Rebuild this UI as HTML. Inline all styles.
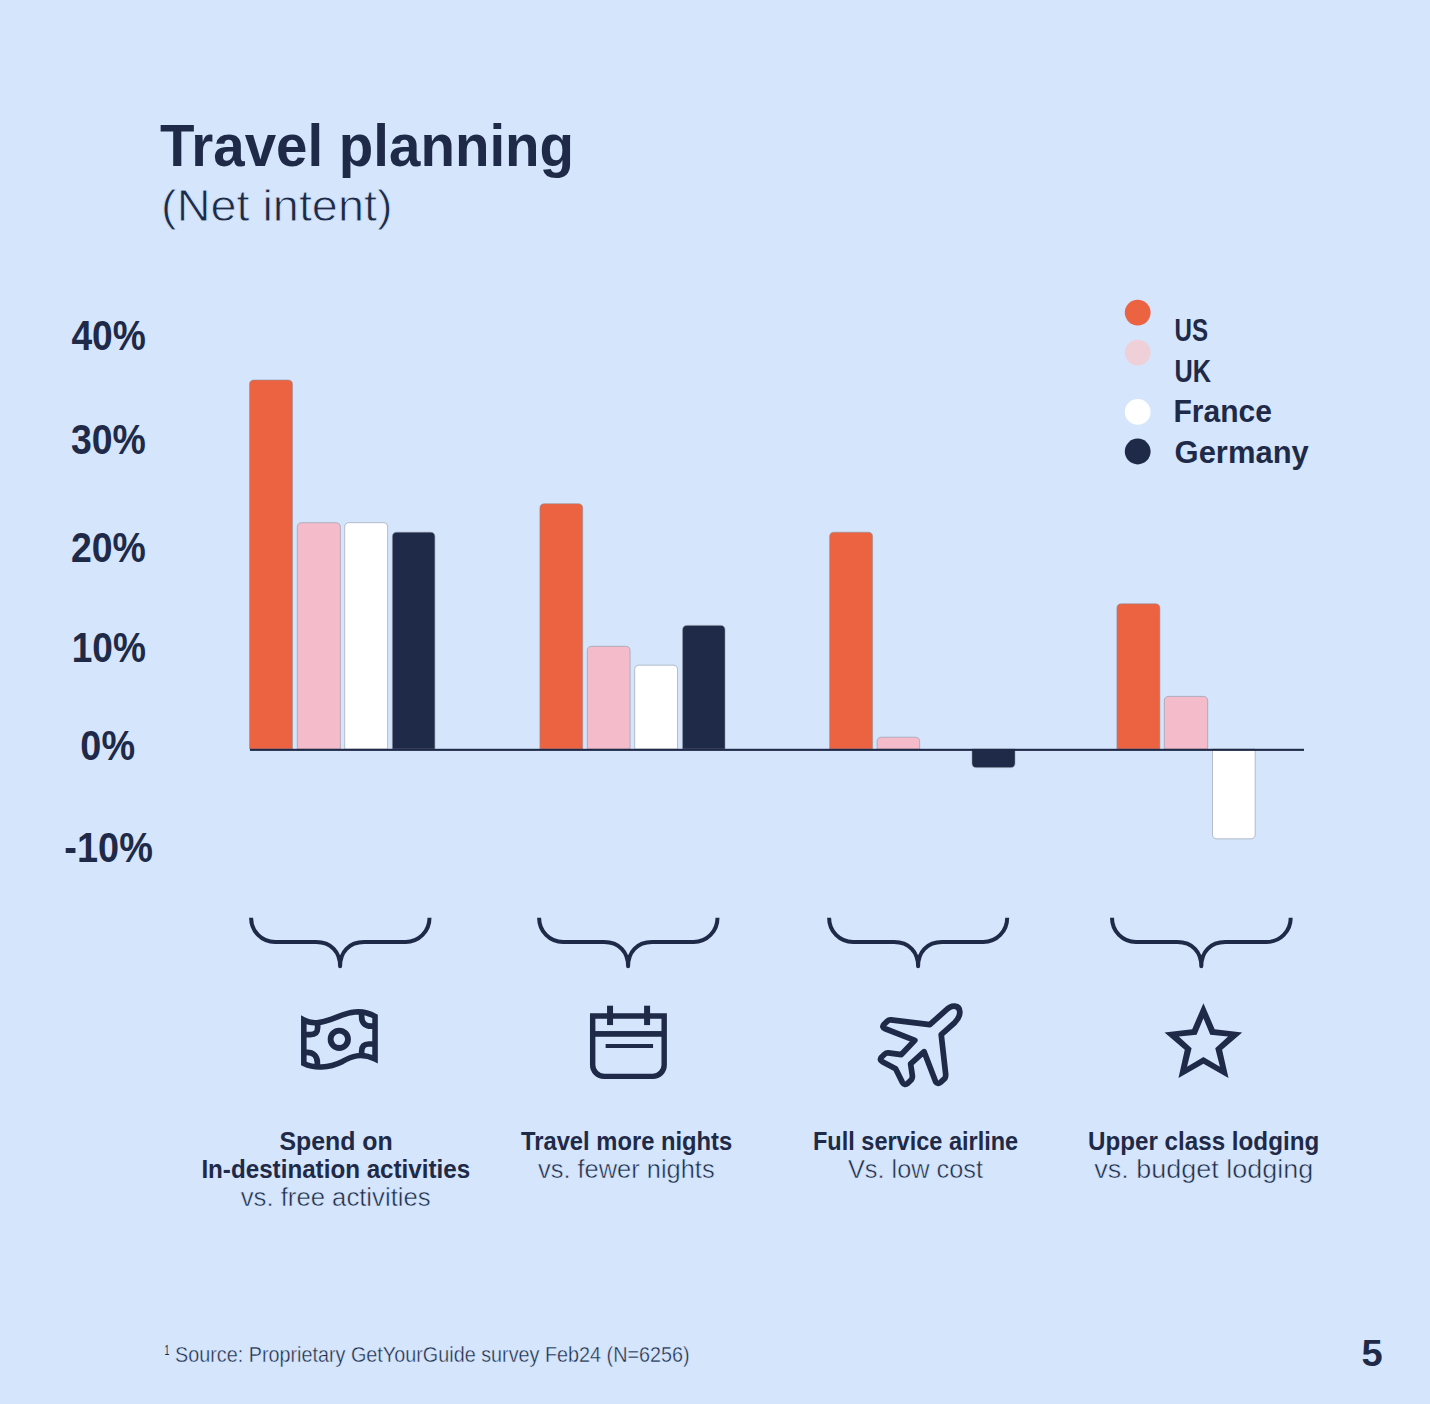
<!DOCTYPE html>
<html><head><meta charset="utf-8"><title>Travel planning</title>
<style>
html,body{margin:0;padding:0;background:#D4E5FC;}
body{width:1430px;height:1404px;overflow:hidden;}
svg text{font-family:"Liberation Sans",sans-serif;fill:#1E2A47;}
</style></head><body>
<svg width="1430" height="1404" viewBox="0 0 1430 1404" style="display:block">
<rect width="1430" height="1404" fill="#D4E5FC"/>
<path d="M249.5,749.0 L249.5,384.5 Q249.5,380 254.0,380 L288.0,380 Q292.5,380 292.5,384.5 L292.5,749.0 Z" fill="#EB6341" stroke="#8a8f9c" stroke-opacity="0.55" stroke-width="1"/>
<path d="M297.3,749.0 L297.3,527.2 Q297.3,522.7 301.8,522.7 L335.9,522.7 Q340.4,522.7 340.4,527.2 L340.4,749.0 Z" fill="#F4BCCB" stroke="#8a8f9c" stroke-opacity="0.55" stroke-width="1"/>
<path d="M344.7,749.0 L344.7,527.2 Q344.7,522.7 349.2,522.7 L383.1,522.7 Q387.6,522.7 387.6,527.2 L387.6,749.0 Z" fill="#FFFFFF" stroke="#8a8f9c" stroke-opacity="0.55" stroke-width="1"/>
<path d="M392.4,749.0 L392.4,536.7 Q392.4,532.2 396.9,532.2 L430.4,532.2 Q434.9,532.2 434.9,536.7 L434.9,749.0 Z" fill="#1E2A47" stroke="#8a8f9c" stroke-opacity="0.55" stroke-width="1"/>
<path d="M539.9,749.0 L539.9,508.2 Q539.9,503.7 544.4,503.7 L578.2,503.7 Q582.7,503.7 582.7,508.2 L582.7,749.0 Z" fill="#EB6341" stroke="#8a8f9c" stroke-opacity="0.55" stroke-width="1"/>
<path d="M587.3,749.0 L587.3,650.8 Q587.3,646.3 591.8,646.3 L625.6,646.3 Q630.1,646.3 630.1,650.8 L630.1,749.0 Z" fill="#F4BCCB" stroke="#8a8f9c" stroke-opacity="0.55" stroke-width="1"/>
<path d="M634.7,749.0 L634.7,669.7 Q634.7,665.2 639.2,665.2 L673.0,665.2 Q677.5,665.2 677.5,669.7 L677.5,749.0 Z" fill="#FFFFFF" stroke="#8a8f9c" stroke-opacity="0.55" stroke-width="1"/>
<path d="M682.6,749.0 L682.6,629.9 Q682.6,625.4 687.1,625.4 L720.5,625.4 Q725,625.4 725,629.9 L725,749.0 Z" fill="#1E2A47" stroke="#8a8f9c" stroke-opacity="0.55" stroke-width="1"/>
<path d="M829.6,749.0 L829.6,536.7 Q829.6,532.2 834.1,532.2 L868.1,532.2 Q872.6,532.2 872.6,536.7 L872.6,749.0 Z" fill="#EB6341" stroke="#8a8f9c" stroke-opacity="0.55" stroke-width="1"/>
<path d="M877.1,749.0 L877.1,741.7 Q877.1,737.2 881.6,737.2 L915.2,737.2 Q919.7,737.2 919.7,741.7 L919.7,749.0 Z" fill="#F4BCCB" stroke="#8a8f9c" stroke-opacity="0.55" stroke-width="1"/>
<path d="M972,749.0 L972,763.1 Q972,767.6 976.5,767.6 L1010.5,767.6 Q1015,767.6 1015,763.1 L1015,749.0 Z" fill="#1E2A47" stroke="#8a8f9c" stroke-opacity="0.55" stroke-width="1"/>
<path d="M1116.9,749.0 L1116.9,608.3 Q1116.9,603.8 1121.4,603.8 L1155.4,603.8 Q1159.9,603.8 1159.9,608.3 L1159.9,749.0 Z" fill="#EB6341" stroke="#8a8f9c" stroke-opacity="0.55" stroke-width="1"/>
<path d="M1164.3,749.0 L1164.3,700.9 Q1164.3,696.4 1168.8,696.4 L1203.2,696.4 Q1207.7,696.4 1207.7,700.9 L1207.7,749.0 Z" fill="#F4BCCB" stroke="#8a8f9c" stroke-opacity="0.55" stroke-width="1"/>
<path d="M1212.5,749.0 L1212.5,834.3 Q1212.5,838.8 1217.0,838.8 L1250.6,838.8 Q1255.1,838.8 1255.1,834.3 L1255.1,749.0 Z" fill="#FFFFFF" stroke="#8a8f9c" stroke-opacity="0.55" stroke-width="1"/>
<rect x="250" y="748.8" width="1054" height="2.1" fill="#1E2A47"/>
<circle cx="1137.7" cy="312.6" r="12.9" fill="#EB6341"/>
<circle cx="1137.7" cy="352.6" r="12.9" fill="#EFCFD8"/>
<circle cx="1137.7" cy="411.9" r="12.9" fill="#FFFFFF"/>
<circle cx="1137.7" cy="451.5" r="12.9" fill="#1E2A47"/>
<text x="159.99" y="166.1" font-size="58.6" font-weight="700" textLength="414.06" lengthAdjust="spacingAndGlyphs">Travel planning</text>
<text x="161.10" y="220.92" font-size="43.8" font-weight="400" textLength="231.40" lengthAdjust="spacingAndGlyphs" stroke="#D4E5FC" stroke-width="0.83">(Net intent)</text>
<text x="71.39" y="349.6" font-size="42.4" font-weight="700" textLength="74.42" lengthAdjust="spacingAndGlyphs">40%</text>
<text x="70.97" y="453.8" font-size="42.4" font-weight="700" textLength="74.86" lengthAdjust="spacingAndGlyphs">30%</text>
<text x="70.97" y="562.4" font-size="42.4" font-weight="700" textLength="74.86" lengthAdjust="spacingAndGlyphs">20%</text>
<text x="71.70" y="661.5" font-size="42.4" font-weight="700" textLength="74.14" lengthAdjust="spacingAndGlyphs">10%</text>
<text x="80.34" y="759.8" font-size="42.4" font-weight="700" textLength="54.72" lengthAdjust="spacingAndGlyphs">0%</text>
<text x="64.37" y="861.8" font-size="42.4" font-weight="700" textLength="88.47" lengthAdjust="spacingAndGlyphs">-10%</text>
<text x="1174.53" y="341.2" font-size="31.5" font-weight="700" textLength="33.51" lengthAdjust="spacingAndGlyphs">US</text>
<text x="1174.54" y="381.8" font-size="31.5" font-weight="700" textLength="36.50" lengthAdjust="spacingAndGlyphs">UK</text>
<text x="1173.54" y="422.4" font-size="31.5" font-weight="700" textLength="98.48" lengthAdjust="spacingAndGlyphs">France</text>
<text x="1174.58" y="463" font-size="31.5" font-weight="700" textLength="134.22" lengthAdjust="spacingAndGlyphs">Germany</text>
<text x="279.39" y="1149.7" font-size="25.4" font-weight="700" textLength="113.26" lengthAdjust="spacingAndGlyphs">Spend on</text>
<text x="201.38" y="1177.7" font-size="25.4" font-weight="700" textLength="268.83" lengthAdjust="spacingAndGlyphs">In-destination activities</text>
<text x="240.78" y="1205.55" font-size="26.1" font-weight="400" textLength="189.84" lengthAdjust="spacingAndGlyphs" stroke="#D4E5FC" stroke-width="0.50">vs. free activities</text>
<text x="520.99" y="1149.7" font-size="25.4" font-weight="700" textLength="211.22" lengthAdjust="spacingAndGlyphs">Travel more nights</text>
<text x="537.99" y="1177.95" font-size="26.1" font-weight="400" textLength="176.63" lengthAdjust="spacingAndGlyphs" stroke="#D4E5FC" stroke-width="0.50">vs. fewer nights</text>
<text x="812.98" y="1149.7" font-size="25.4" font-weight="700" textLength="205.23" lengthAdjust="spacingAndGlyphs">Full service airline</text>
<text x="847.98" y="1177.95" font-size="26.1" font-weight="400" textLength="135.03" lengthAdjust="spacingAndGlyphs" stroke="#D4E5FC" stroke-width="0.50">Vs. low cost</text>
<text x="1087.99" y="1149.7" font-size="25.4" font-weight="700" textLength="231.23" lengthAdjust="spacingAndGlyphs">Upper class lodging</text>
<text x="1094.39" y="1177.95" font-size="26.1" font-weight="400" textLength="218.84" lengthAdjust="spacingAndGlyphs" stroke="#D4E5FC" stroke-width="0.50">vs. budget lodging</text>
<text x="174.99" y="1362.0" font-size="21.2" font-weight="400" textLength="514.62" lengthAdjust="spacingAndGlyphs" stroke="#D4E5FC" stroke-width="0.40">Source: Proprietary GetYourGuide survey Feb24 (N=6256)</text>
<text x="164.48" y="1354.5" font-size="13.8" font-weight="400" textLength="4.94" lengthAdjust="spacingAndGlyphs">1</text>
<text x="1361.51" y="1365.8" font-size="37.6" font-weight="700" textLength="21.17" lengthAdjust="spacingAndGlyphs">5</text>
<path d="M251.1,917.8 C251.1,931.3 261.6,942 275.1,942 L316.1,942 C331.1,942 340.1,952 340.1,966.2 C340.1,952 349.1,942 364.1,942 L405.5,942 C419.0,942 429.5,931.3 429.5,917.8" fill="none" stroke="#1E2A47" stroke-width="4" stroke-linejoin="round"/>
<path d="M539.1,917.8 C539.1,931.3 549.6,942 563.1,942 L604.1,942 C619.1,942 628.1,952 628.1,966.2 C628.1,952 637.1,942 652.1,942 L693.5,942 C707.0,942 717.5,931.3 717.5,917.8" fill="none" stroke="#1E2A47" stroke-width="4" stroke-linejoin="round"/>
<path d="M829.1,917.8 C829.1,931.3 839.6,942 853.1,942 L894.1,942 C909.1,942 918.1,952 918.1,966.2 C918.1,952 927.1,942 942.1,942 L983.2,942 C996.7,942 1007.2,931.3 1007.2,917.8" fill="none" stroke="#1E2A47" stroke-width="4" stroke-linejoin="round"/>
<path d="M1112,917.8 C1112,931.3 1122.5,942 1136,942 L1177.3,942 C1192.3,942 1201.3,952 1201.3,966.2 C1201.3,952 1210.3,942 1225.3,942 L1266.7,942 C1280.2,942 1290.7,931.3 1290.7,917.8" fill="none" stroke="#1E2A47" stroke-width="4" stroke-linejoin="round"/>
<svg x="240" y="900" width="200" height="200" viewBox="0 0 1404 1404" overflow="visible"><path d="M448,842 C500,872 560,870 680,822 C760,789 850,762 948,817 L948,1117 C850,1070 780,1098 720,1133 C620,1183 520,1183 448,1148 Z" fill="none" stroke="#1E2A47" stroke-width="39" stroke-linejoin="miter"/><circle cx="697" cy="978" r="61" fill="none" stroke="#1E2A47" stroke-width="41"/><path d="M545,860 L545,895 C545,930 528,945 493,945 L445,945" fill="none" stroke="#1E2A47" stroke-width="40"/><path d="M854,780 L854,820 C854,865 880,886 920,886 L950,886" fill="none" stroke="#1E2A47" stroke-width="40"/><path d="M950,1011 L905,1011 C870,1011 854,1028 854,1062 L854,1100" fill="none" stroke="#1E2A47" stroke-width="40"/><path d="M445,1069 L470,1069 C515,1069 543,1095 543,1140 L543,1178" fill="none" stroke="#1E2A47" stroke-width="40"/></svg>
<svg x="528" y="900" width="200" height="200" viewBox="0 0 1404 1404" overflow="visible"><path d="M454,814 L956,814 L956,1158 A80,80 0 0 1 876,1238 L534,1238 A80,80 0 0 1 454,1158 Z" fill="none" stroke="#1E2A47" stroke-width="38"/><rect x="454" y="920" width="502" height="40" fill="#1E2A47"/><rect x="555" y="742" width="42" height="136" fill="#1E2A47"/><rect x="815" y="742" width="42" height="136" fill="#1E2A47"/><rect x="545" y="1011" width="333" height="28" fill="#1E2A47"/></svg>
<svg x="818" y="900" width="200" height="200" viewBox="0 0 1404 1404" overflow="visible"><path d="M893,778 L785,875 L512,842 Q498,840 487,850 L464,872 Q443,893 472,904 L680,985 L585,1085 L494,1073 Q480,1071 469,1081 L447,1102 Q427,1123 452,1136 L545,1185 L592,1280 Q607,1306 632,1285 L655,1262 Q665,1248 662,1230 L650,1150 L745,1065 L826,1276 Q839,1298 862,1278 L892,1250 Q898,1235 896,1220 L865,945 L960,860 C1010,810 1005,750 960,745 C932,743 908,762 893,778 Z" fill="none" stroke="#1E2A47" stroke-width="40" stroke-linejoin="round"/></svg>
<svg x="1102" y="900" width="200" height="200" viewBox="0 0 1404 1404" overflow="visible"><path d="M712,725 L791,907 L984,930 L843,1052 L888,1250 L712,1149 L537,1250 L581,1052 L439,930 L633,907 Z M712,830 L760,946 L885,958 L795,1040 L828,1170 L712,1103 L597,1170 L629,1040 L539,958 L664,946 Z" fill="#1E2A47" fill-rule="evenodd"/></svg>
</svg>
</body></html>
